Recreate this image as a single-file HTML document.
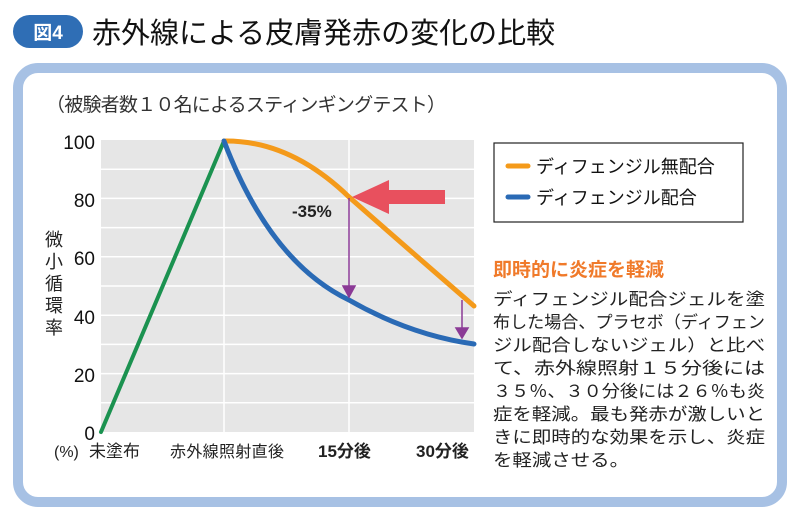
<!DOCTYPE html>
<html><head><meta charset="utf-8"><style>
body{margin:0;width:800px;height:520px;background:#fff;overflow:hidden;font-family:"Liberation Sans","Noto Sans CJK JP",sans-serif;}
</style></head><body>
<svg width="800" height="520" viewBox="0 0 800 520" xmlns="http://www.w3.org/2000/svg" font-family="Liberation Sans, Noto Sans CJK JP, sans-serif">
<rect x="13" y="15" width="70" height="33" rx="16.5" fill="#2f6eb5"/>
<text x="48" y="39" font-size="19" fill="#fff" text-anchor="middle" font-weight="bold">図4</text>
<text x="92" y="43" font-size="29" fill="#111">赤外線による皮膚発赤の変化の比較</text>
<rect x="18" y="68" width="764" height="434" rx="20" fill="none" stroke="#a7c1e4" stroke-width="10"/>
<text x="46" y="111" font-size="19" fill="#333" textLength="400">（被験者数１０名によるスティンギングテスト）</text>
<rect x="101" y="140" width="373" height="292" fill="#e6e6e6"/>
<g stroke="#fff" stroke-width="1.5">
<line x1="101" x2="474" y1="169.2" y2="169.2"/><line x1="101" x2="474" y1="198.4" y2="198.4"/><line x1="101" x2="474" y1="227.6" y2="227.6"/><line x1="101" x2="474" y1="256.8" y2="256.8"/><line x1="101" x2="474" y1="286" y2="286"/><line x1="101" x2="474" y1="315.2" y2="315.2"/><line x1="101" x2="474" y1="344.4" y2="344.4"/><line x1="101" x2="474" y1="373.6" y2="373.6"/><line x1="101" x2="474" y1="402.8" y2="402.8"/>
<line x1="224" x2="224" y1="140" y2="432"/><line x1="349" x2="349" y1="140" y2="432"/>
</g>
<g font-size="19" fill="#111" text-anchor="end">
<text x="95" y="149">100</text><text x="95" y="207">80</text><text x="95" y="265">60</text><text x="95" y="324">40</text><text x="95" y="382">20</text><text x="95" y="440">0</text>
</g>
<g font-size="18" fill="#222" text-anchor="middle">
<text x="54" y="246">微</text><text x="54" y="268">小</text><text x="54" y="290">循</text><text x="54" y="312">環</text><text x="54" y="334">率</text>
</g>
<g font-size="17" fill="#222">
<text x="54" y="457" font-size="16">(%)</text><text x="89" y="457">未塗布</text>
<text x="170" y="457" font-size="16" textLength="114">赤外線照射直後</text>
<text x="318" y="457" font-weight="bold">15分後</text>
<text x="416" y="457" font-weight="bold">30分後</text>
</g>
<path d="M101 432 L224 141" stroke="#1b9250" stroke-width="4" fill="none" stroke-linecap="round"/>
<path d="M224 141 Q290 140 349 197 Q415 255 474 306" stroke="#f49a1a" stroke-width="5" fill="none" stroke-linecap="round"/>
<path d="M224 141 Q270 262 349 300 Q410 335 474 344" stroke="#2a6ab5" stroke-width="5" fill="none" stroke-linecap="round"/>
<path d="M352 197 L389 180 L389 190 L445 190 L445 204 L389 204 L389 214 Z" fill="#e8505e"/>
<g stroke="#8b3a96" stroke-width="1.5" fill="#8b3a96">
<line x1="349" y1="198" x2="349" y2="290"/><path d="M343 286 L355 286 L349 297 Z"/>
<line x1="462" y1="300" x2="462" y2="332"/><path d="M456 328 L468 328 L462 338 Z"/>
</g>
<text x="292" y="217" font-size="17" font-weight="bold" fill="#222">-35%</text>
<rect x="494" y="143" width="249" height="79" fill="#fff" stroke="#222" stroke-width="1.2"/>
<line x1="508" y1="166" x2="528" y2="166" stroke="#f49a1a" stroke-width="5" stroke-linecap="round"/>
<line x1="508" y1="197" x2="528" y2="197" stroke="#2a6ab5" stroke-width="5" stroke-linecap="round"/>
<text x="536" y="173" font-size="18" fill="#111">ディフェンジル無配合</text>
<text x="536" y="204" font-size="18" fill="#111">ディフェンジル配合</text>
<text x="493" y="276" font-size="19" fill="#f07a2a" font-weight="bold">即時的に炎症を軽減</text>
<g font-size="17" fill="#222">
<text x="493" y="305" textLength="272" lengthAdjust="spacingAndGlyphs">ディフェンジル配合ジェルを塗</text>
<text x="493" y="328" textLength="272" lengthAdjust="spacingAndGlyphs">布した場合、プラセボ（ディフェン</text>
<text x="493" y="351" textLength="272" lengthAdjust="spacingAndGlyphs">ジル配合しないジェル）と比べ</text>
<text x="493" y="374" textLength="272" lengthAdjust="spacingAndGlyphs">て、赤外線照射１５分後には</text>
<text x="493" y="397" textLength="272" lengthAdjust="spacingAndGlyphs">３５％、３０分後には２６％も炎</text>
<text x="493" y="420" textLength="272" lengthAdjust="spacingAndGlyphs">症を軽減。最も発赤が激しいと</text>
<text x="493" y="443" textLength="272" lengthAdjust="spacingAndGlyphs">きに即時的な効果を示し、炎症</text>
<text x="493" y="466" textLength="136" lengthAdjust="spacingAndGlyphs">を軽減させる。</text>
</g>
</svg>
</body></html>
